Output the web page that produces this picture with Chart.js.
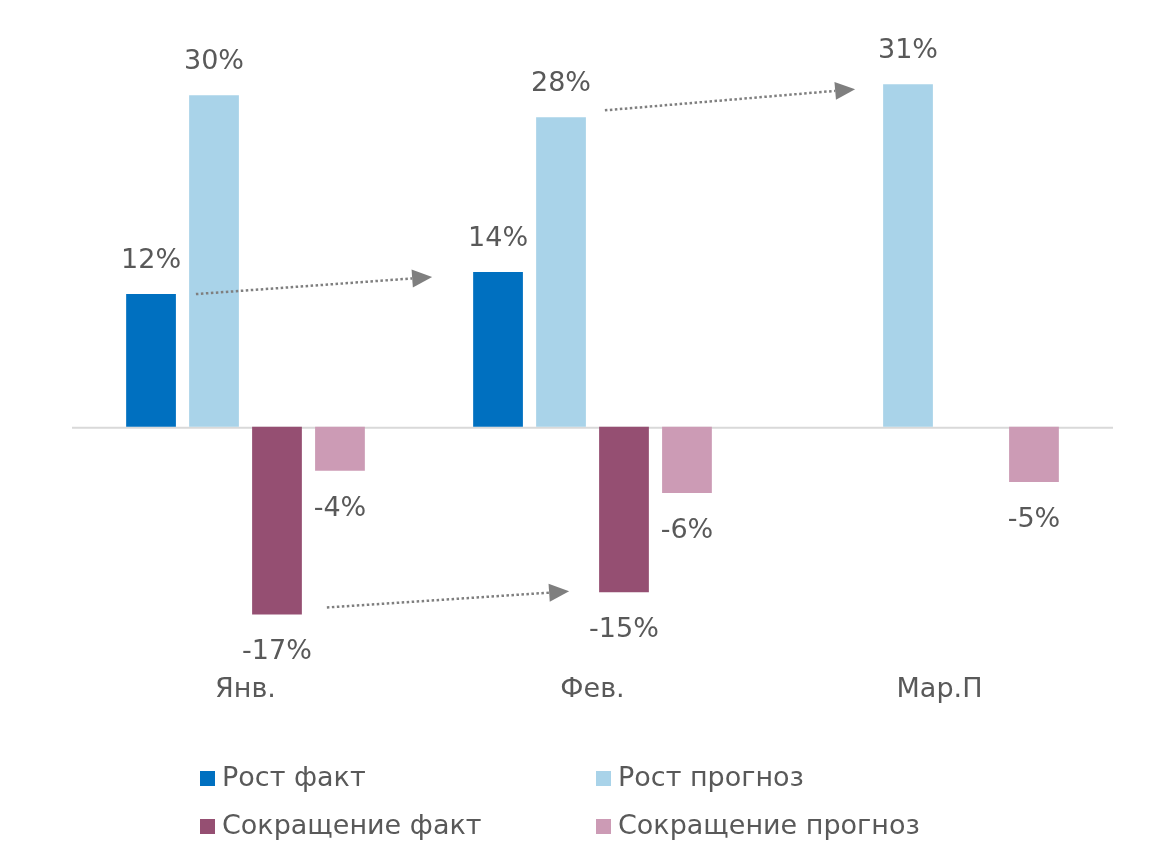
<!DOCTYPE html>
<html>
<head>
<meta charset="utf-8">
<script src="https://cdn.jsdelivr.net/npm/chart.js@4"></script>
<style>
  html, body { margin: 0; padding: 0; background: #fff; }
  #wrap { width: 1170px; height: 864px; }
</style>
</head>
<body>
<div id="wrap"><canvas id="bar-chart"></canvas></div>
<script>
// chart data
const months = ["Янв.", "Фев.", "Мар.П"];
const seriesNames = ["Рост факт", "Рост прогноз", "Сокращение факт", "Сокращение прогноз"];
const growthFact = [12, 14, null];
const growthForecast = [30, 28, 31];
const cutFact = [-17, -15, null];
const cutForecast = [-4, -6, -5];

const colors = ["#0070c0", "#a9d3e9", "#954f72", "#cc9bb5"];
const textColor = "#595959";
const fontFamily = "'DejaVu Sans', sans-serif";
const fontSize = 27;

// dotted arrows between bars: [dataset, index] -> [dataset, index]
const arrows = [
  { from: [0, 0], to: [0, 1], sx: 20, sy: 0, ex: -41, ey: 5 },
  { from: [1, 1], to: [1, 2], sx: 19, sy: -7, ex: -28, ey: 5 },
  { from: [2, 0], to: [2, 1], sx: 25, sy: -7, ex: -30, ey: -1 },
];

// value labels over / under every bar
const valueLabels = {
  id: "valueLabels",
  afterDatasetsDraw(chart) {
    const ctx = chart.ctx;
    ctx.save();
    ctx.font = fontSize + "px " + fontFamily;
    ctx.fillStyle = textColor;
    ctx.textAlign = "center";
    ctx.textBaseline = "middle";
    chart.data.datasets.forEach((ds, i) => {
      chart.getDatasetMeta(i).data.forEach((bar, j) => {
        const v = ds.data[j];
        if (v === null) return;
        const y = v >= 0 ? bar.y - 33 : bar.y + 38;
        ctx.fillText(v + "%", bar.x, y);
      });
    });
    ctx.restore();
  },
};

// zero line + arrows + legend
const extras = {
  id: "extras",
  beforeDatasetsDraw(chart) {
    const ctx = chart.ctx;
    const area = chart.chartArea;
    const y0 = chart.scales.y.getPixelForValue(0);
    ctx.save();
    ctx.strokeStyle = "#d9d9d9";
    ctx.lineWidth = 2;
    ctx.beginPath();
    ctx.moveTo(area.left, y0 + 1);
    ctx.lineTo(area.right, y0 + 1);
    ctx.stroke();
    ctx.restore();
  },
  afterDatasetsDraw(chart) {
    const ctx = chart.ctx;
    ctx.save();
    arrows.forEach((a) => {
      const b1 = chart.getDatasetMeta(a.from[0]).data[a.from[1]];
      const b2 = chart.getDatasetMeta(a.to[0]).data[a.to[1]];
      const x1 = b1.x + b1.width / 2 + a.sx;
      const y1 = b1.y + a.sy;
      const x2 = b2.x - b2.width / 2 + a.ex;
      const y2 = b2.y + a.ey;
      const ang = Math.atan2(y2 - y1, x2 - x1);
      const head = 20;
      const half = 9;
      const cos = Math.cos(ang);
      const sin = Math.sin(ang);
      // dotted shaft
      ctx.strokeStyle = "#7f7f7f";
      ctx.lineWidth = 2.5;
      ctx.setLineDash([2.5, 2.5]);
      ctx.beginPath();
      ctx.moveTo(x1, y1);
      ctx.lineTo(x2 - head * cos, y2 - head * sin);
      ctx.stroke();
      ctx.setLineDash([]);
      // head
      ctx.fillStyle = "#7f7f7f";
      ctx.beginPath();
      ctx.moveTo(x2, y2);
      ctx.lineTo(x2 - head * cos + half * sin, y2 - head * sin - half * cos);
      ctx.lineTo(x2 - head * cos - half * sin, y2 - head * sin + half * cos);
      ctx.closePath();
      ctx.fill();
    });
    ctx.restore();
  },
  afterDraw(chart) {
    // 2x2 legend at the bottom
    const ctx = chart.ctx;
    const cols = [200, 596];
    const rows = [779, 827];
    ctx.save();
    ctx.font = fontSize + "px " + fontFamily;
    ctx.textBaseline = "middle";
    ctx.textAlign = "left";
    chart.data.datasets.forEach((ds, i) => {
      const x = cols[i % 2];
      const y = rows[Math.floor(i / 2)];
      ctx.fillStyle = ds.backgroundColor;
      ctx.fillRect(x, y - 8, 15, 15);
      ctx.fillStyle = textColor;
      ctx.fillText(ds.label, x + 22, y);
    });
    ctx.restore();
  },
};

const allSeries = [growthFact, growthForecast, cutFact, cutForecast];

new Chart(document.getElementById("bar-chart"), {
  type: "bar",
  data: {
    labels: months,
    datasets: allSeries.map((vals, i) => ({
      label: seriesNames[i],
      data: vals,
      backgroundColor: colors[i],
      borderWidth: 0,
      categoryPercentage: 0.726,
      barPercentage: 0.79,
    })),
  },
  options: {
    responsive: true,
    maintainAspectRatio: false,
    animation: false,
    layout: {
      padding: { top: 40, left: 72, right: 57, bottom: 140 },
    },
    scales: {
      y: {
        display: false,
        min: -20,
        max: 35,
      },
      x: {
        grid: { display: false },
        border: { display: false },
        ticks: {
          color: textColor,
          padding: 18,
          font: { size: fontSize, family: fontFamily },
        },
      },
    },
    plugins: {
      legend: { display: false },
      tooltip: { enabled: false },
    },
  },
  plugins: [valueLabels, extras],
});
</script>
</body>
</html>
